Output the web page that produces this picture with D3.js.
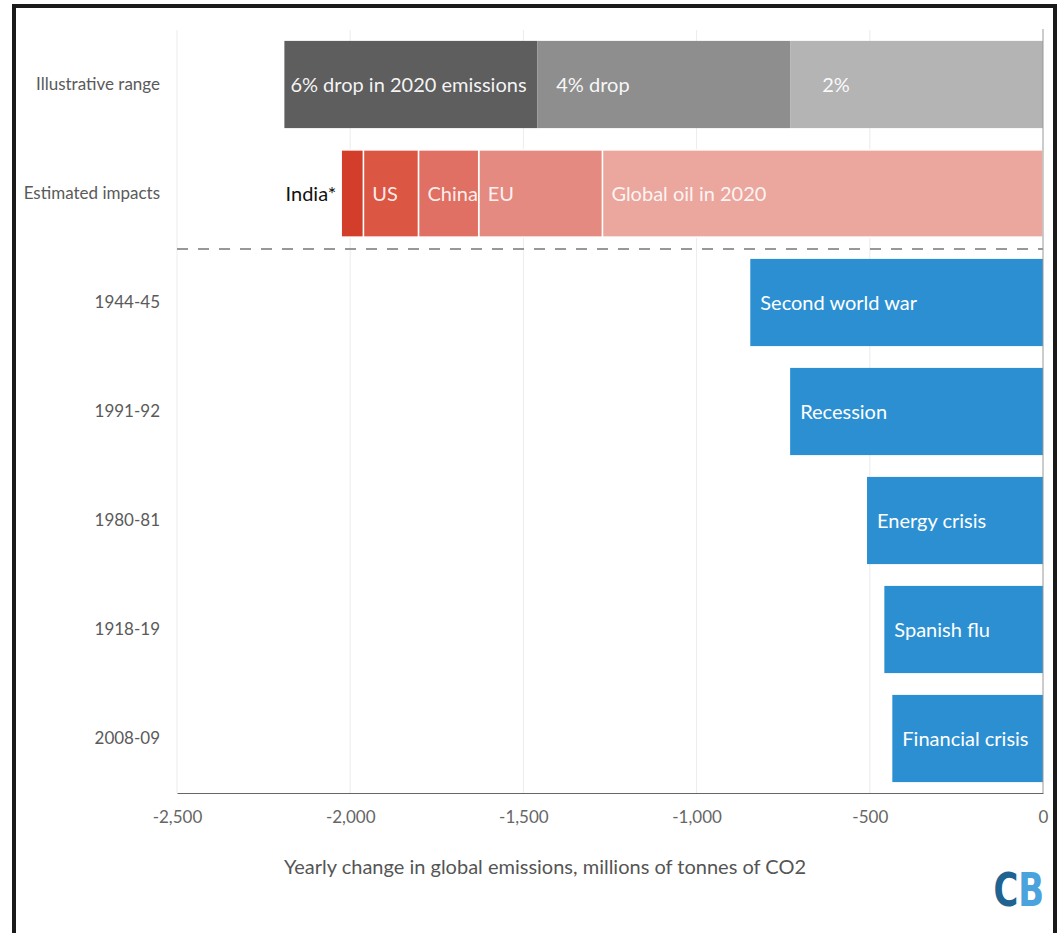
<!DOCTYPE html>
<html>
<head>
<meta charset="utf-8">
<script src="https://cdn.jsdelivr.net/npm/d3@7"></script>
<style>
  body { margin: 0; background: #fff; }
  svg { display: block; font-family: "Lato", "Open Sans", sans-serif; }
</style>
</head>
<body>
<svg width="1057" height="933"></svg>
<script>
// row labels (top to bottom)
const rows = ["Illustrative range", "Estimated impacts", "1944-45", "1991-92", "1980-81", "1918-19", "2008-09"];

// illustrative range: cumulative drops, MtCO2
const rangeLabels = ["6% drop in 2020 emissions", "4% drop", "2%"];
const rangeValues = [-2190, -1460, -730];
const rangeColors = ["#5e5e5e", "#8e8e8e", "#b4b4b4"];

// estimated impacts: stacked from 0 leftwards
const impactLabels = ["Global oil in 2020", "EU", "China", "US", "India*"];
const impactValues = [1272, 357, 174, 159, 64];
const impactColors = ["#eba69e", "#e58a80", "#e07063", "#db5643", "#d33e2b"];

// historical drops
const histYears = ["1944-45", "1991-92", "1980-81", "1918-19", "2008-09"];
const histLabels = ["Second world war", "Recession", "Energy crisis", "Spanish flu", "Financial crisis"];
const histValues = [-845, -730, -508, -458, -435];

const xTicks = [-2500, -2000, -1500, -1000, -500, 0];

const svg = d3.select("svg");

// frame
svg.append("path")
  .attr("d", "M14,933 V6 H1055 V933")
  .attr("fill", "none").attr("stroke", "#1a1a1a").attr("stroke-width", 4);

const x = d3.scaleLinear().domain([-2500, 0]).range([177, 1043]);
const y = d3.scaleBand().domain(rows).range([30, 793]).paddingInner(0.2).paddingOuter(0.1);

// gridlines
svg.append("g").selectAll("line")
  .data(xTicks.slice(0, -1))
  .enter().append("line")
  .attr("x1", d => x(d)).attr("x2", d => x(d))
  .attr("y1", 30).attr("y2", 793)
  .attr("stroke", "#ececec").attr("stroke-width", 1);

// illustrative range (draw largest first)
const rangeG = svg.append("g");
rangeValues.forEach((v, i) => {
  const next = i < rangeValues.length - 1 ? rangeValues[i + 1] : 0;
  rangeG.append("rect")
    .attr("x", x(v)).attr("width", x(next) - x(v))
    .attr("y", y(rows[0])).attr("height", y.bandwidth())
    .attr("fill", rangeColors[i]);
  rangeG.append("text")
    .attr("x", x(v) + (i === 2 ? 32 : i === 1 ? 19 : 6))
    .attr("y", y(rows[0]) + y.bandwidth() / 2)
    .attr("dy", "0.35em")
    .attr("fill", "#fff").attr("font-size", 20)
    .attr("fill-opacity", 0.95)
    .text(rangeLabels[i]);
});

// estimated impacts stacked
const impG = svg.append("g");
let acc = 0;
impactValues.forEach((v, i) => {
  const right = acc, left = acc - v;
  acc = left;
  impG.append("rect")
    .attr("x", x(left)).attr("width", x(right) - x(left))
    .attr("y", y(rows[1])).attr("height", y.bandwidth())
    .attr("fill", impactColors[i])
    .attr("stroke", "#fff").attr("stroke-width", 1.5);
  const isIndia = i === impactValues.length - 1;
  impG.append("text")
    .attr("x", isIndia ? x(left) - 5 : x(left) + 9)
    .attr("y", y(rows[1]) + y.bandwidth() / 2)
    .attr("dy", "0.35em")
    .attr("text-anchor", isIndia ? "end" : "start")
    .attr("fill", isIndia ? "#111" : "#fff").attr("font-size", 20)
    .attr("fill-opacity", isIndia ? 1 : 0.9)
    .text(impactLabels[i]);
});

// dashed separator
svg.append("line")
  .attr("x1", x(-2500)).attr("x2", x(0))
  .attr("y1", 249).attr("y2", 249)
  .attr("stroke", "#777").attr("stroke-width", 1.5)
  .attr("stroke-dasharray", "11,10");

// historical bars
const histG = svg.append("g").selectAll("g")
  .data(histYears.map((yr, i) => ({ yr, label: histLabels[i], v: histValues[i] })))
  .enter().append("g");
histG.append("rect")
  .attr("x", d => x(d.v)).attr("width", d => x(0) - x(d.v))
  .attr("y", d => y(d.yr)).attr("height", y.bandwidth())
  .attr("fill", "#2b8fd2");
histG.append("text")
  .attr("x", d => x(d.v) + 10)
  .attr("y", d => y(d.yr) + y.bandwidth() / 2)
  .attr("dy", "0.35em")
  .attr("fill", "#fff").attr("font-size", 20)
  .text(d => d.label);

// zero line
svg.append("line")
  .attr("x1", x(0)).attr("x2", x(0)).attr("y1", 29).attr("y2", 793)
  .attr("stroke", "#999").attr("stroke-width", 1);

// y labels
svg.append("g").selectAll("text")
  .data(rows).enter().append("text")
  .attr("x", 160)
  .attr("y", d => y(d) + y.bandwidth() / 2)
  .attr("dy", "0.35em")
  .attr("text-anchor", "end")
  .attr("fill", "#5a5a5a").attr("font-size", 17)
  .text(d => d);

// x axis
const xAxis = svg.append("g")
  .attr("transform", "translate(0,793)")
  .call(d3.axisBottom(x).tickValues(xTicks).tickSize(0).tickPadding(18)
    .tickFormat(d => d3.format(",")(d).replace("\u2212", "-")));
xAxis.select(".domain").attr("stroke", "#666").attr("stroke-width", 1.2);
xAxis.selectAll("text").attr("font-size", 17).attr("fill", "#666")
  .attr("font-family", "Lato, 'Open Sans', sans-serif");

svg.append("text")
  .attr("x", 545).attr("y", 874)
  .attr("text-anchor", "middle")
  .attr("fill", "#555").attr("font-size", 20)
  .text("Yearly change in global emissions, millions of tonnes of CO2");

// CB logo
const logo = svg.append("text")
  .attr("transform", "translate(1044,906) scale(0.72,1)")
  .attr("text-anchor", "end")
  .attr("font-family", "'DejaVu Sans', sans-serif")
  .attr("font-weight", "bold").attr("font-size", 47);
logo.append("tspan").attr("fill", "#1f6390").text("C");
logo.append("tspan").attr("fill", "#4aa3dc").text("B");
</script>
</body>
</html>
